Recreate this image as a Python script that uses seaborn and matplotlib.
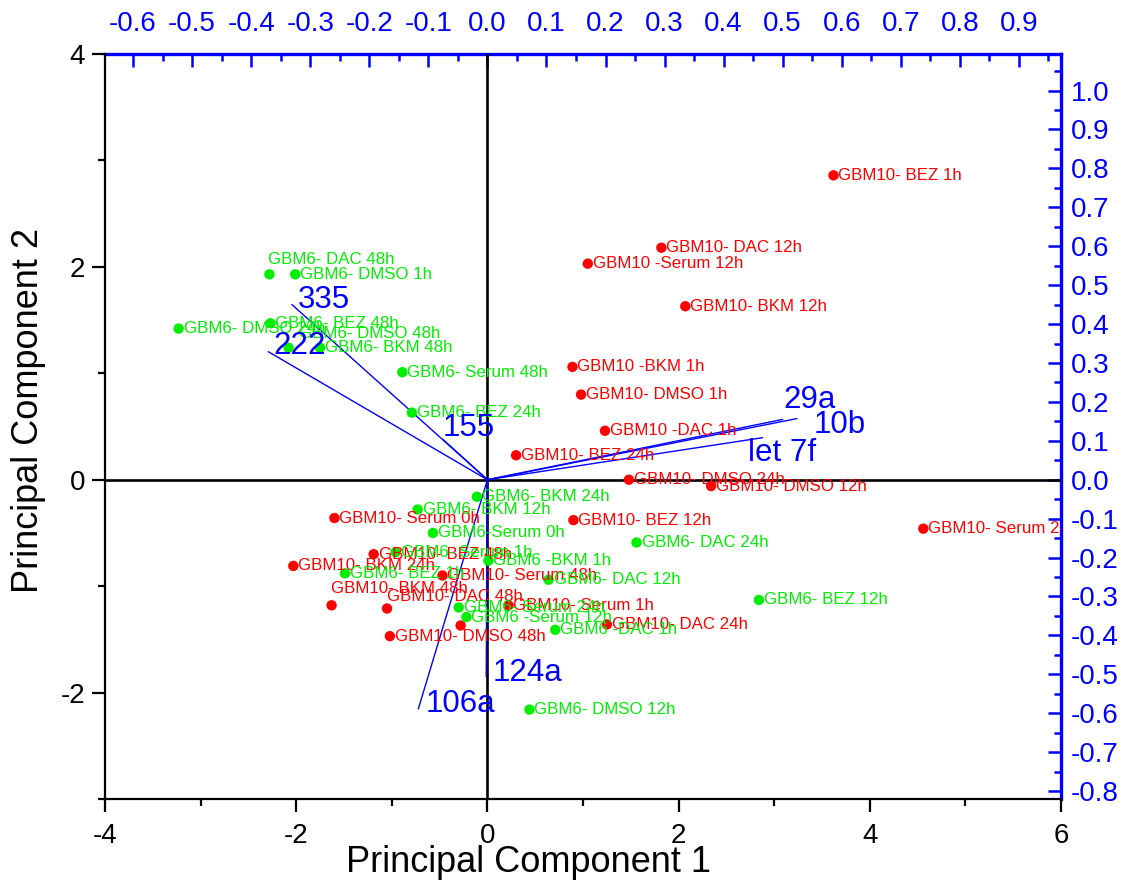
import matplotlib
matplotlib.use("Agg")
import matplotlib.pyplot as plt
from matplotlib.ticker import MultipleLocator, FuncFormatter
import pandas as pd
import seaborn as sns

# ---------------- sample scores (PC1, PC2) ----------------
gbm10_labels = [
    "GBM10- BEZ 1h", "GBM10- DAC 12h", "GBM10 -Serum 12h", "GBM10- BKM 12h",
    "GBM10 -BKM 1h", "GBM10- DMSO 1h", "GBM10 -DAC 1h", "GBM10- BEZ 24h",
    "GBM10- DMSO 24h", "GBM10- DMSO 12h", "GBM10- Serum 24h", "GBM10- BEZ 12h",
    "GBM10- Serum 0h", "GBM10- BEZ 48h", "GBM10- BKM 24h", "GBM10- Serum 48h",
    "GBM10- BKM 48h", "GBM10- DAC 48h", "", "GBM10- Serum 1h",
    "GBM10- DMSO 48h", "GBM10- DAC 24h",
]
gbm10_pc1 = [3.62, 1.82, 1.05, 2.07, 0.89, 0.98, 1.23, 0.30, 1.48, 2.34, 4.56,
             0.90, -1.60, -1.19, -2.03, -0.47, -1.63, -1.05, -0.28, 0.22, -1.02, 1.25]
gbm10_pc2 = [2.86, 2.18, 2.03, 1.63, 1.06, 0.80, 0.46, 0.23, 0.00, -0.06, -0.46,
             -0.38, -0.36, -0.70, -0.81, -0.90, -1.18, -1.21, -1.37, -1.18, -1.47, -1.36]

gbm6_labels = [
    "GBM6- DAC 48h", "GBM6- DMSO 1h", "GBM6- BEZ 48h", "GBM6- DMSO 24h",
    "GBM6- DMSO 48h", "GBM6- BKM 48h", "GBM6- Serum 48h", "GBM6- BEZ 24h",
    "GBM6- BKM 24h", "GBM6- BKM 12h", "GBM6-Serum 0h", "GBM6- Serum 1h",
    "GBM6- BEZ 1h", "GBM6 -BKM 1h", "GBM6- DAC 12h", "GBM6- DAC 24h",
    "GBM6- BEZ 12h", "GBM6- Serum 24h", "GBM6 -Serum 12h", "GBM6 -DAC 1h",
    "GBM6- DMSO 12h",
]
gbm6_pc1 = [-2.28, -2.01, -2.27, -3.23, -2.08, -1.75, -0.89, -0.79, -0.11, -0.73,
            -0.57, -0.96, -1.49, 0.01, 0.64, 1.56, 2.84, -0.30, -0.22, 0.71, 0.44]
gbm6_pc2 = [1.93, 1.93, 1.47, 1.42, 1.24, 1.24, 1.01, 0.63, -0.16, -0.28, -0.50,
            -0.68, -0.88, -0.76, -0.94, -0.59, -1.13, -1.20, -1.29, -1.41, -2.16]

# ---------------- miRNA loadings (top / right axis units) ----------------
loading_names = ["335", "222", "155", "29a", "10b", "let 7f", "124a", "106a"]
loading_x = [-0.331, -0.371, -0.075, 0.524, 0.500, 0.466, -0.002, -0.117]
loading_y = [0.450, 0.329, 0.103, 0.157, 0.155, 0.108, -0.506, -0.589]

# ratio between loading axes and score axes
KX = 0.1619
KY = 0.2735

RED = "#ff0000"
GREEN = "#00ee00"
BLUE = "#0000ff"
PX = 0.72  # points per pixel at 100 dpi

# label nudges in pixels (dx right, dy down) from the marker centre
default_nudge = (5, 0)
label_nudge = {
    "GBM6- DAC 48h": (-1, -15),
    "GBM6- DMSO 48h": (10, -14),
    "GBM10- BKM 48h": (-1, -17),
    "GBM10- DAC 48h": (0, -12),
}
loading_nudge = {
    "335": (6, -5), "222": (5, -6), "155": (0, -12), "29a": (-13, -19),
    "10b": (31, 6), "let 7f": (-15, 15), "124a": (6, -4), "106a": (7, -5),
}

sns.set_theme(style="ticks")
plt.rcParams["font.family"] = ["Liberation Sans", "DejaVu Sans"]
plt.rcParams["axes.unicode_minus"] = False

fig = plt.figure(figsize=(11.32, 8.92), dpi=100)
ax = fig.add_axes([0.09276, 0.10426, 0.84452, 0.83520])
ax.set_facecolor("white")

df = pd.DataFrame({
    "pc1": gbm10_pc1 + gbm6_pc1,
    "pc2": gbm10_pc2 + gbm6_pc2,
    "line": ["GBM10"] * len(gbm10_pc1) + ["GBM6"] * len(gbm6_pc1),
    "label": gbm10_labels + gbm6_labels,
})

ax.set_xlim(-4, 6)
ax.set_ylim(-3, 4)

# origin cross
ax.axhline(0, color="black", lw=1.9, zorder=1)
ax.axvline(0, color="black", lw=1.9, zorder=1)

# loading vectors
for name, lx, ly in zip(loading_names, loading_x, loading_y):
    ex, ey = lx / KX, ly / KY
    ax.plot([0, ex], [0, ey], color=BLUE, lw=1.0, zorder=2)
    dx, dy = loading_nudge[name]
    ax.annotate(name, (ex, ey), xytext=(dx * PX, -dy * PX), textcoords="offset points",
                ha="left", va="center", fontsize=22.5, color=BLUE, zorder=5)

sns.scatterplot(data=df, x="pc1", y="pc2", hue="line",
                palette={"GBM10": RED, "GBM6": GREEN}, s=56, linewidth=0,
                legend=False, ax=ax, zorder=3)

for _, row in df.iterrows():
    if not row["label"]:
        continue
    dx, dy = label_nudge.get(row["label"], default_nudge)
    ax.annotate(row["label"], (row["pc1"], row["pc2"]), xytext=(dx * PX, -dy * PX),
                textcoords="offset points", ha="left", va="center", fontsize=12.2,
                color=RED if row["line"] == "GBM10" else GREEN, zorder=4, clip_on=True)

# main (score) axes
ax.xaxis.set_major_locator(MultipleLocator(2))
ax.xaxis.set_minor_locator(MultipleLocator(1))
ax.yaxis.set_major_locator(MultipleLocator(2))
ax.yaxis.set_minor_locator(MultipleLocator(1))
int_fmt = FuncFormatter(lambda v, p: f"{int(round(v))}")
ax.xaxis.set_major_formatter(int_fmt)
ax.yaxis.set_major_formatter(int_fmt)
ax.tick_params(which="both", direction="out", color="black", width=1.6,
               top=False, right=False, labelsize=20, labelcolor="black")
ax.tick_params(which="major", length=9.4)
ax.tick_params(which="minor", length=5)
ax.tick_params(axis="x", pad=8)
ax.tick_params(axis="y", pad=5)
for side in ("left", "bottom"):
    ax.spines[side].set_color("black")
    ax.spines[side].set_linewidth(1.6)
for side in ("top", "right"):
    ax.spines[side].set_visible(False)

ax.set_xlabel("Principal Component 1", fontsize=26, color="black")
ax.set_ylabel("Principal Component 2", fontsize=26, color="black")
ax.xaxis.set_label_coords(0.4425, -0.062)
ax.yaxis.set_label_coords(-0.062, 0.522)

# loading axes (top / right)
dec_fmt = FuncFormatter(lambda v, p: f"{round(v, 1) + 0:.1f}")
sec_x = ax.secondary_xaxis("top", functions=(lambda v: v * KX, lambda v: v / KX))
sec_y = ax.secondary_yaxis("right", functions=(lambda v: v * KY, lambda v: v / KY))
for sec, axis, side in ((sec_x, sec_x.xaxis, "top"), (sec_y, sec_y.yaxis, "right")):
    axis.set_major_locator(MultipleLocator(0.1))
    axis.set_minor_locator(MultipleLocator(0.05))
    axis.set_major_formatter(dec_fmt)
    sec.tick_params(which="both", direction="in", color=BLUE, width=1.8,
                    labelcolor=BLUE, labelsize=20)
    sec.tick_params(which="major", length=9.4)
    sec.tick_params(which="minor", length=5)
    sec.spines[side].set_color(BLUE)
    sec.spines[side].set_linewidth(2.4)
sec_x.tick_params(pad=12)
sec_y.tick_params(pad=7)

fig.savefig("out.png", dpi=100, facecolor="white")
